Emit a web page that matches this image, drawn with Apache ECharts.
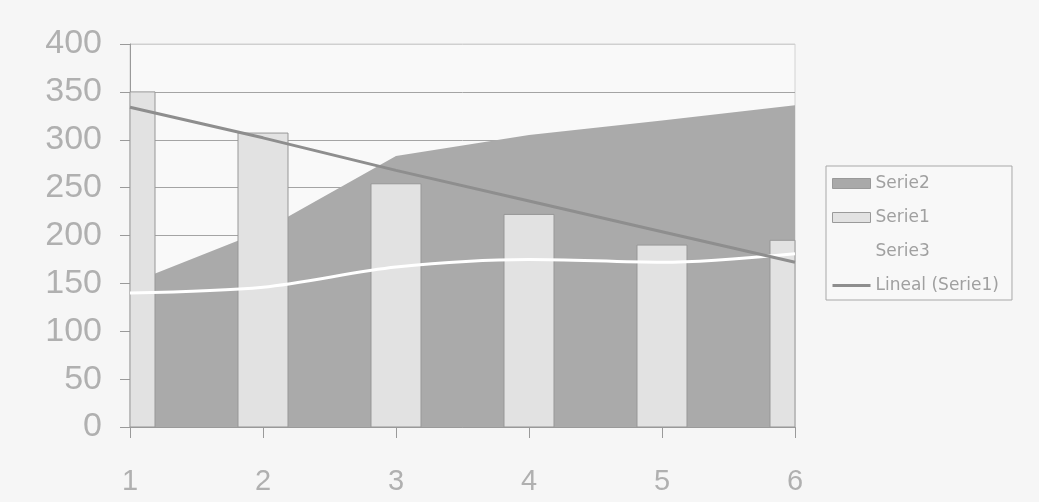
<!DOCTYPE html>
<html>
<head>
<meta charset="utf-8">
<script src="https://cdn.jsdelivr.net/npm/echarts@6/dist/echarts.min.js"></script>
<style>
html,body{margin:0;padding:0;background:#f6f6f6;}
#c{width:1039px;height:502px;}
</style>
</head>
<body>
<div id="c"></div>
<script>
const categories = ['1', '2', '3', '4', '5', '6'];
const serie1 = [350, 307, 254, 222, 190, 195];
const serie2 = [150, 205, 283, 305, 320, 336];
const serie3 = [140, 146, 167, 175, 172, 181];
const lineal = [334, 302, 268, 236, 204, 172];
const yTicks = { min: 0, max: 400, interval: 50 };

const chart = echarts.init(document.getElementById('c'), null, { renderer: 'canvas' });
const axisFont = 'Liberation Sans';
const legendFont = 'DejaVu Sans';
const BAR_W = 50;

function renderBar(params, api) {
  const idx = api.value(0);
  const top = api.coord([idx, api.value(1)]);
  const base = api.coord([idx, 0]);
  const cs = params.coordSys;
  const rect = echarts.graphic.clipRectByRect(
    { x: top[0] - BAR_W / 2, y: top[1], width: BAR_W, height: base[1] - top[1] },
    { x: cs.x, y: cs.y, width: cs.width, height: cs.height }
  );
  if (!rect) return;
  return {
    type: 'rect',
    shape: rect,
    style: { fill: '#e2e2e2', stroke: '#979797', lineWidth: 1 }
  };
}

chart.setOption({
  backgroundColor: '#f6f6f6',
  animation: false,
  grid: {
    left: 130, right: 244, top: 44, bottom: 75,
    show: true, backgroundColor: '#f9f9f9', borderColor: '#d2d2d2', borderWidth: 1
  },
  legend: {
    orient: 'vertical',
    left: 826, top: 166,
    padding: [9, 13, 6, 6],
    borderColor: '#a8a8a8', borderWidth: 1,
    backgroundColor: '#f8f8f8',
    itemWidth: 38, itemHeight: 10, itemGap: 17,
    textStyle: { color: '#a0a0a0', fontSize: 17, fontFamily: legendFont, lineHeight: 17 },
    data: [
      { name: 'Serie2', icon: 'rect', itemStyle: { color: '#a9a9a9', borderColor: '#999', borderWidth: 1 } },
      { name: 'Serie1', icon: 'rect', itemStyle: { color: '#e2e2e2', borderColor: '#9a9a9a', borderWidth: 1 } },
      { name: 'Serie3', icon: 'rect', itemStyle: { color: '#f8f8f8', borderWidth: 0 } },
      { name: 'Lineal (Serie1)', icon: 'path://M0,0h40v3h-40z', itemStyle: { color: '#8e8e8e', borderWidth: 0 } }
    ]
  },
  xAxis: {
    type: 'category',
    data: categories,
    boundaryGap: false,
    axisLine: { lineStyle: { color: '#9a9a9a', width: 1 } },
    axisTick: { show: true, length: 11, alignWithLabel: true, lineStyle: { color: '#9a9a9a' } },
    axisLabel: { color: '#b0b0b0', fontSize: 29, fontFamily: axisFont, margin: 40, lineHeight: 29 },
    splitLine: { show: false }
  },
  yAxis: {
    type: 'value',
    min: yTicks.min, max: yTicks.max, interval: yTicks.interval,
    axisLine: { show: true, lineStyle: { color: '#9a9a9a', width: 1 } },
    axisTick: { show: true, length: 10, lineStyle: { color: '#9a9a9a' } },
    axisLabel: { color: '#b0b0b0', fontSize: 34, fontFamily: axisFont, margin: 28 },
    splitLine: {
      show: true,
      lineStyle: {
        color: ['#a4a4a4', '#a4a4a4', '#a4a4a4', '#a4a4a4', '#a4a4a4', '#a4a4a4', '#a4a4a4', '#a4a4a4', '#d0d0d0'],
        width: 1
      }
    }
  },
  series: [
    {
      name: 'Serie2', type: 'line', data: serie2, symbol: 'none', z: 1,
      lineStyle: { width: 0, color: '#a9a9a9' },
      itemStyle: { color: '#a9a9a9' },
      areaStyle: { color: '#aaaaaa', opacity: 1 }
    },
    {
      name: 'Serie1', type: 'custom', z: 2,
      data: serie1.map((v, i) => [i, v]),
      encode: { x: 0, y: 1 },
      itemStyle: { color: '#e2e2e2' },
      renderItem: renderBar
    },
    {
      name: 'Serie3', type: 'line', data: serie3, symbol: 'none', smooth: 0.3, z: 3,
      lineStyle: { width: 3, color: '#ffffff' },
      itemStyle: { color: '#ffffff' }
    },
    {
      name: 'Lineal (Serie1)', type: 'line', data: lineal, symbol: 'none', z: 4,
      lineStyle: { width: 3, color: '#8e8e8e' },
      itemStyle: { color: '#8e8e8e' }
    }
  ]
});
</script>
</body>
</html>
